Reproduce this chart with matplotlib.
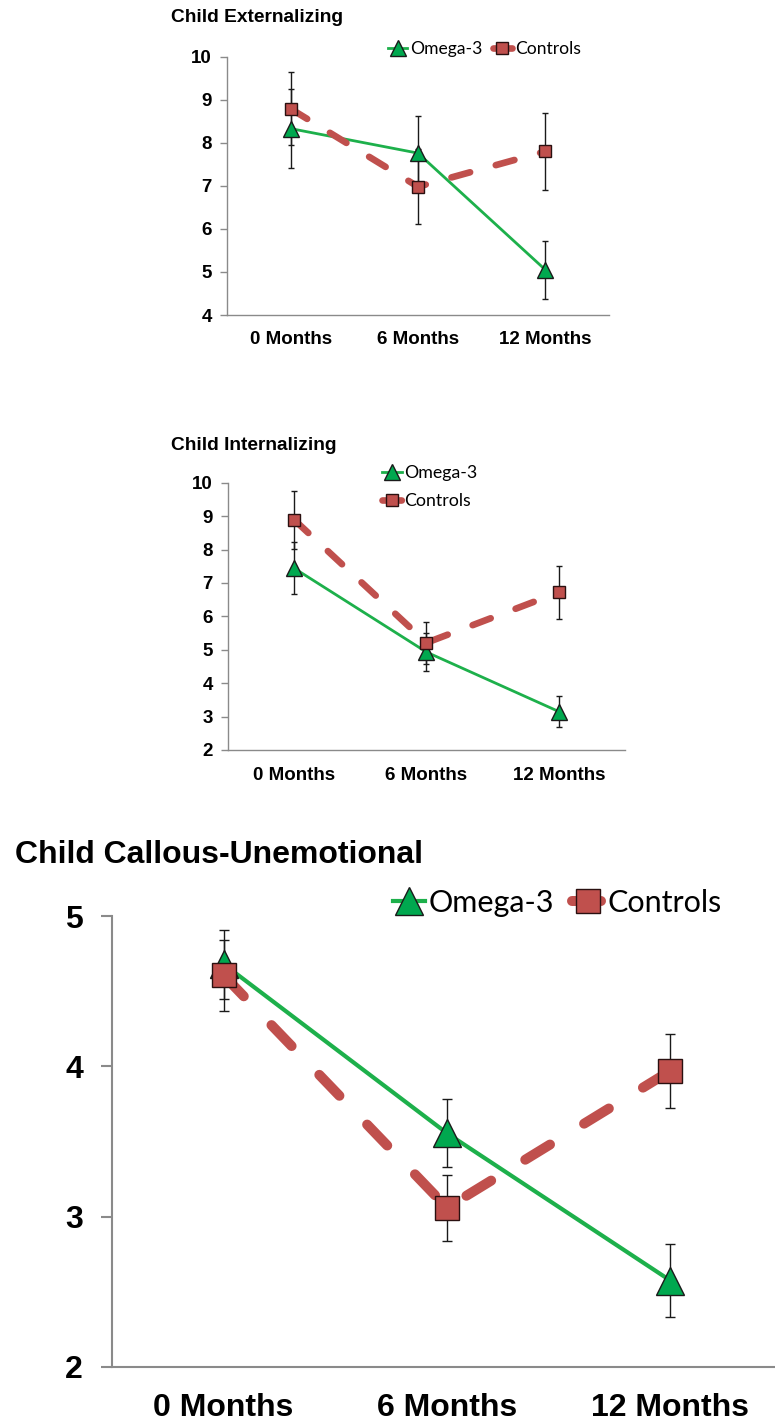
import matplotlib
matplotlib.use('Agg')
import matplotlib.pyplot as plt

# time points
months = ['0 Months', '6 Months', '12 Months']

# Child Externalizing
ext_omega = [8.33, 7.76, 5.05]
ext_omega_err = [0.92, 0.87, 0.67]
ext_ctrl = [8.79, 6.98, 7.80]
ext_ctrl_err = [0.85, 0.87, 0.89]

# Child Internalizing
int_omega = [7.44, 4.93, 3.15]
int_omega_err = [0.78, 0.58, 0.47]
int_ctrl = [8.89, 5.21, 6.72]
int_ctrl_err = [0.86, 0.63, 0.80]

# Child Callous-Unemotional
cu_omega = [4.68, 3.555, 2.575]
cu_omega_err = [0.23, 0.225, 0.245]
cu_ctrl = [4.605, 3.06, 3.97]
cu_ctrl_err = [0.235, 0.22, 0.245]

GREEN = '#1db04b'
GREEN_FILL = '#00a84f'
RED = '#c0504d'
AXIS_GREY = '#8a8a8a'

W, H = 775, 1426
fig = plt.figure(figsize=(W / 100, H / 100), dpi=100)


def panel(rect, title, title_xy, omega, omega_err, ctrl, ctrl_err, ylim, yticks,
          fs_title, fs_tick, fs_leg, ms_tri, ms_sq, lw_g, lw_r, spine_lw,
          tick_len, ypad, xpad, capsize, leg_xy, leg_ncol, leg_kw):
    ax = fig.add_axes(rect)
    x = list(range(len(months)))

    ax.errorbar(x, omega, yerr=omega_err, fmt='none', ecolor='#1a1a1a',
                elinewidth=1.0, capsize=capsize, capthick=1.0, zorder=2)
    ax.errorbar(x, ctrl, yerr=ctrl_err, fmt='none', ecolor='#1a1a1a',
                elinewidth=1.0, capsize=capsize, capthick=1.0, zorder=2)

    ax.plot(x, omega, color=GREEN, lw=lw_g, marker='^', ms=ms_tri,
            mfc=GREEN_FILL, mec='#1a1a1a', mew=1.0, label='Omega-3', zorder=3)
    l, = ax.plot(x, ctrl, color=RED, lw=lw_r, marker='s', ms=ms_sq,
                 mfc=RED, mec='#2a1010', mew=1.0, label='Controls', zorder=4)
    l.set_dashes((2.9, 4.0))
    l.set_dash_capstyle('round')

    ax.set_xlim(-0.5, 2.5)
    ax.set_ylim(*ylim)
    ax.set_yticks(yticks)
    ax.set_xticks(x)
    ax.set_xticklabels(months)
    for s in ['top', 'right']:
        ax.spines[s].set_visible(False)
    for s in ['left', 'bottom']:
        ax.spines[s].set_color(AXIS_GREY)
        ax.spines[s].set_linewidth(spine_lw)
    ax.tick_params(axis='y', length=tick_len, width=spine_lw, color=AXIS_GREY,
                   pad=ypad, labelsize=fs_tick)
    ax.tick_params(axis='x', length=0, pad=xpad, labelsize=fs_tick)
    for t in ax.get_xticklabels() + ax.get_yticklabels():
        t.set_fontweight('bold')
        t.set_fontfamily('Liberation Sans')

    fig.text(title_xy[0] / W, 1 - title_xy[1] / H, title, fontsize=fs_title,
             fontweight='bold', family='Liberation Sans', va='center', ha='left')

    ax.legend(loc='center left', bbox_to_anchor=(leg_xy[0] / W, 1 - leg_xy[1] / H),
              bbox_transform=fig.transFigure, ncol=leg_ncol, frameon=False,
              borderpad=0, borderaxespad=0, prop={'family': 'Lato', 'size': fs_leg},
              **leg_kw)
    return ax


panel([227 / W, 1 - 315 / H, 382 / W, 258.3 / H], 'Child Externalizing', (171, 18),
      ext_omega, ext_omega_err, ext_ctrl, ext_ctrl_err, (4, 10), range(4, 11),
      fs_title=13.8, fs_tick=13.5, fs_leg=12.6, ms_tri=11, ms_sq=8, lw_g=2, lw_r=4.8,
      spine_lw=1, tick_len=5, ypad=6, xpad=11.5, capsize=2.5,
      leg_xy=(388, 49), leg_ncol=2,
      leg_kw=dict(handlelength=1.1, handletextpad=0.15, columnspacing=0.6))

panel([228 / W, 1 - 750 / H, 397 / W, 267.3 / H], 'Child Internalizing', (171, 445),
      int_omega, int_omega_err, int_ctrl, int_ctrl_err, (2, 10), range(2, 11),
      fs_title=13.8, fs_tick=13.5, fs_leg=12.8, ms_tri=11, ms_sq=8, lw_g=2, lw_r=4.8,
      spine_lw=1, tick_len=5, ypad=6, xpad=12.5, capsize=2.5,
      leg_xy=(382, 487), leg_ncol=1,
      leg_kw=dict(handlelength=1.1, handletextpad=0.15, labelspacing=0.65))

panel([112 / W, 1 - 1367 / H, 670 / W, 451 / H], 'Child Callous-Unemotional', (15, 855),
      cu_omega, cu_omega_err, cu_ctrl, cu_ctrl_err, (2, 5), range(2, 6),
      fs_title=23, fs_tick=23, fs_leg=22, ms_tri=20, ms_sq=17, lw_g=3, lw_r=7.2,
      spine_lw=1.5, tick_len=8, ypad=13, xpad=19, capsize=3.5,
      leg_xy=(393, 903), leg_ncol=2,
      leg_kw=dict(handlelength=1.05, handletextpad=0.1, columnspacing=0.6))

fig.savefig('out.png', dpi=100)
